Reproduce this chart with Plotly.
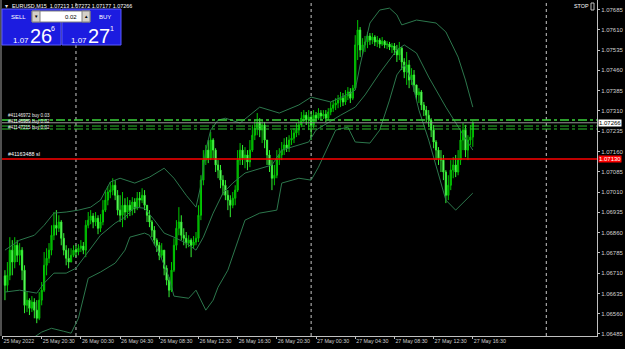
import plotly.graph_objects as go
import pandas as pd

# ---------------- data (prices in points above 1.06000) ----------------
BASE = 1.06
start_time = "2022-05-25 16:45"
first_open_pts = 700
close_pts = [665, 702, 795, 751, 813, 776, 795, 721, 591, 610,
             580, 603, 573, 543, 610, 647, 739, 765, 795, 850,
             887, 876, 899, 839, 795, 765, 751, 776, 795, 788,
             802, 810, 795, 887, 906, 921, 899, 913, 876, 899,
             943, 980, 1010, 1017, 1035, 998, 943, 924, 961, 936,
             961, 943, 973, 950, 987, 980, 998, 961, 924, 899,
             869, 832, 813, 776, 795, 728, 684, 647, 721, 813,
             876, 899, 850, 839, 821, 832, 813, 825, 839, 924,
             1054, 1128, 1165, 1135, 1202, 1165, 1110, 1091, 1054, 1035,
             998, 980, 961, 987, 1017, 1128, 1165, 1135, 1147, 1121,
             1165, 1220, 1246, 1269, 1239, 1258, 1202, 1147, 1110, 1061,
             1072, 1135, 1147, 1165, 1184, 1172, 1202, 1209, 1228, 1239,
             1258, 1283, 1294, 1276, 1287, 1258, 1294, 1283, 1302, 1291,
             1298, 1283, 1306, 1320, 1332, 1339, 1350, 1357, 1343, 1365,
             1380, 1357, 1394, 1554, 1609, 1535, 1554, 1565, 1587, 1572,
             1583, 1565, 1572, 1557, 1568, 1554, 1557, 1546, 1550, 1535,
             1517, 1542, 1491, 1454, 1480, 1424, 1443, 1406, 1369, 1380,
             1332, 1313, 1294, 1276, 1239, 1195, 1165, 1135, 1128, 1084,
             998, 1035, 1091, 1110, 1084, 1128, 1202, 1239, 1165, 1202,
             1213, 1266]
high_pts = [721, 751, 843, 832, 843, 832, 821, 806, 739, 640,
            617, 625, 617, 610, 640, 677, 788, 802, 821, 887,
            936, 943, 924, 906, 858, 813, 802, 802, 813, 813,
            817, 832, 825, 906, 936, 943, 932, 936, 924, 928,
            980, 1017, 1032, 1047, 1061, 1054, 1017, 998, 1010, 987,
            991, 980, 991, 987, 1010, 1010, 1024, 1017, 961, 943,
            906, 884, 839, 825, 821, 795, 739, 695, 751, 839,
            906, 954, 924, 876, 862, 850, 839, 847, 862, 961,
            1072, 1165, 1184, 1202, 1232, 1209, 1172, 1128, 1110, 1072,
            1054, 1017, 998, 1010, 1035, 1165, 1191, 1184, 1176, 1165,
            1202, 1258, 1276, 1302, 1283, 1276, 1269, 1202, 1165, 1128,
            1110, 1165, 1172, 1195, 1209, 1213, 1220, 1239, 1246, 1265,
            1276, 1306, 1313, 1306, 1313, 1306, 1313, 1306, 1320, 1313,
            1313, 1313, 1320, 1343, 1350, 1357, 1369, 1380, 1376, 1387,
            1398, 1394, 1406, 1590, 1646, 1620, 1579, 1587, 1602, 1598,
            1598, 1590, 1587, 1579, 1583, 1572, 1568, 1565, 1561, 1561,
            1554, 1565, 1546, 1505, 1528, 1498, 1468, 1461, 1406, 1394,
            1387, 1343, 1328, 1313, 1283, 1258, 1202, 1176, 1165, 1147,
            1091, 1072, 1128, 1139, 1147, 1165, 1239, 1265, 1258, 1220,
            1258, 1272]
low_pts = [610, 640, 684, 702, 728, 751, 739, 684, 562, 566,
           555, 566, 543, 525, 536, 591, 640, 702, 747, 776,
           832, 850, 862, 813, 776, 739, 728, 751, 769, 769,
           776, 788, 780, 769, 876, 891, 876, 884, 854, 862,
           887, 936, 961, 987, 998, 980, 924, 899, 880, 906,
           913, 921, 924, 932, 943, 954, 969, 943, 899, 880,
           843, 813, 788, 758, 765, 702, 665, 621, 640, 714,
           795, 850, 832, 813, 802, 806, 769, 802, 813, 825,
           906, 1035, 1110, 1117, 1128, 1135, 1084, 1061, 1024, 998,
           980, 943, 917, 950, 961, 1010, 1110, 1110, 1098, 1091,
           1102, 1158, 1202, 1220, 1213, 1191, 1172, 1110, 1084, 1017,
           1035, 1061, 1110, 1128, 1147, 1158, 1158, 1184, 1191, 1213,
           1220, 1250, 1269, 1258, 1239, 1202, 1246, 1269, 1276, 1276,
           1280, 1269, 1276, 1294, 1306, 1313, 1320, 1324, 1328, 1332,
           1350, 1339, 1350, 1387, 1498, 1509, 1517, 1528, 1542, 1554,
           1557, 1550, 1546, 1542, 1550, 1542, 1539, 1535, 1524, 1517,
           1491, 1498, 1461, 1431, 1406, 1394, 1406, 1380, 1350, 1339,
           1313, 1291, 1269, 1250, 1213, 1172, 1128, 1110, 1084, 1054,
           969, 980, 1017, 1061, 1065, 1072, 1110, 1165, 1139, 1128,
           1184, 1177]

# Bollinger bands (bar index relative to 26 May 00:00, value in points)
upper_idx = [-29, -23, -17, -13, -9, -4, 1, 6, 10, 14, 18, 24, 30, 36, 40, 45, 49, 51, 53, 55,
             58, 61, 67, 75, 83, 91, 96, 104, 112, 114, 116, 118, 120, 124, 128, 131, 133, 139,
             147, 151, 156, 159, 162]
upper_pts = [795, 832, 850, 887, 932, 936, 943, 954, 980, 1047, 1061, 1043, 1065, 1098, 1061, 998,
             954, 1035, 1165, 1239, 1276, 1283, 1265, 1324, 1302, 1332, 1361, 1343, 1376, 1387,
             1480, 1554, 1635, 1683, 1690, 1665, 1628, 1646, 1635, 1602, 1509, 1424, 1324]
middle_idx = [-29, -23, -16, -13, -9, -4, 0, 4, 10, 16, 20, 24, 28, 32, 36, 40, 45, 49, 52, 56,
              60, 64, 69, 80, 84, 95, 98, 108, 114, 118, 124, 131, 134, 139, 144, 151, 157, 162]
middle_pts = [640, 647, 636, 673, 710, 710, 728, 776, 850, 895, 917, 954, 950, 906, 858, 843, 821,
              795, 843, 932, 1006, 1043, 1080, 1110, 1165, 1195, 1239, 1294, 1324, 1369, 1450, 1535,
              1554, 1524, 1435, 1324, 1239, 1165]
lower_idx = [-29, -20, -14, -10, -5, -2, 1, 5, 10, 16, 20, 22, 28, 30, 34, 38, 40, 46, 49, 51,
             53, 56, 58, 62, 69, 75, 82, 84, 91, 96, 99, 106, 111, 114, 120, 124, 128, 131, 134,
             137, 140, 144, 147, 151, 155, 162]
lower_pts = [444, 455, 492, 506, 495, 488, 543, 691, 714, 747, 795, 843, 858, 850, 784, 695, 625,
             617, 647, 610, 573, 610, 658, 721, 906, 932, 943, 1043, 1061, 1054, 1102, 1239, 1250,
             1195, 1191, 1239, 1350, 1443, 1480, 1424, 1313, 1202, 1110, 980, 943, 1006]

tick_times = ["2022-05-25 16:30", "2022-05-25 20:30", "2022-05-26 00:30", "2022-05-26 04:30",
              "2022-05-26 08:30", "2022-05-26 12:30", "2022-05-26 16:30", "2022-05-26 20:30",
              "2022-05-27 00:30", "2022-05-27 04:30", "2022-05-27 08:30", "2022-05-27 12:30",
              "2022-05-27 16:30"]
tick_texts = ["25 May 2022", "25 May 20:30", "26 May 00:30", "26 May 04:30", "26 May 08:30",
              "26 May 12:30", "26 May 16:30", "26 May 20:30", "27 May 00:30", "27 May 04:30",
              "27 May 08:30", "27 May 12:30", "27 May 16:30"]
separator_times = ["2022-05-26 00:00", "2022-05-27 00:00", "2022-05-28 00:00"]
price_ticks = [1.06485 + 0.00075 * i for i in range(17)]

order_levels = [1.07276, 1.07254, 1.07243]
bid_price = 1.07266
sl_price = 1.07132
order_labels = ["#41146972 buy 0.03", "#41146989 buy 0.02", "#41147215 buy 0.02"]
sl_label = "#41163488 sl"
header_text = "EURUSD,M15  1.07213 1.07272 1.07177 1.07266"
sell_price = ("1.07", "26", "6")
buy_price = ("1.07", "27", "1")
lot_size = "0.02"

# ---------------- helpers ----------------
REF = pd.Timestamp("2022-05-26 00:00")
STEP = pd.Timedelta("15min")


def bar_index(t):
    return (pd.Timestamp(t) - REF) / STEP


def to_price(pts):
    return [BASE + p / 1e5 for p in pts]


opens_pts = [first_open_pts] + close_pts[:-1]
times = pd.date_range(start_time, periods=len(close_pts), freq="15min")
xk = [bar_index(t) for t in times]

# plot-area pixel geometry (for overlay decorations)
PX0, PX1, PH = 2, 597, 336


def px(x):
    return (x - PX0) / (PX1 - PX0)


def py(y):
    return 1 - y / PH


FONT = "Liberation Sans"
fig = go.Figure()

band_color = "#2c774c"
for idx, pts in [(upper_idx, upper_pts), (middle_idx, middle_pts), (lower_idx, lower_pts)]:
    fig.add_trace(go.Scatter(x=idx, y=to_price(pts), mode="lines",
                             line=dict(color=band_color, width=1), hoverinfo="skip",
                             showlegend=False))

fig.add_trace(go.Candlestick(
    x=xk, open=to_price(opens_pts), high=to_price(high_pts), low=to_price(low_pts),
    close=to_price(close_pts),
    increasing=dict(line=dict(color="#00c800", width=1), fillcolor="#009a00"),
    decreasing=dict(line=dict(color="#33f033", width=1), fillcolor="#a0ffa0"),
    whiskerwidth=0, showlegend=False))

shapes = []
# day separators
for t in separator_times:
    k = bar_index(t)
    shapes.append(dict(type="line", xref="x", yref="paper", x0=k, x1=k, y0=0, y1=1,
                       line=dict(color="#c8c8c8", width=1, dash="dot"), layer="below"))
# order lines
for i, lv in enumerate(order_levels):
    shapes.append(dict(type="line", xref="paper", yref="y", x0=0, x1=1, y0=lv, y1=lv,
                       line=dict(color="#2fc02f" if i else "#3ad43a", width=1.5 if i == 0 else 1,
                                 dash="dashdot"), layer="above"))
shapes.append(dict(type="line", xref="paper", yref="y", x0=0, x1=1, y0=bid_price, y1=bid_price,
                   line=dict(color="#9a9a9a", width=1), layer="above"))
shapes.append(dict(type="line", xref="paper", yref="y", x0=0, x1=1, y0=sl_price, y1=sl_price,
                   line=dict(color="#ff0000", width=1.3), layer="above"))
# left border
shapes.append(dict(type="line", xref="paper", yref="paper", x0=px(1), x1=px(1), y0=0, y1=1,
                   line=dict(color="#a0a0a0", width=1)))

# one-click trading panel
blue = "#1c1ce0"
for x0, x1 in [(2, 61), (62, 121)]:
    shapes.append(dict(type="rect", xref="paper", yref="paper", x0=px(x0), x1=px(x1),
                       y0=py(45), y1=py(9), fillcolor=blue,
                       line=dict(color="#5a5aff", width=1), layer="above"))
shapes.append(dict(type="rect", xref="paper", yref="paper", x0=px(32), x1=px(90),
                   y0=py(22), y1=py(11), fillcolor="#ffffff",
                   line=dict(color="#808080", width=1), layer="above"))
for x0, x1 in [(32, 40), (82, 90)]:
    shapes.append(dict(type="rect", xref="paper", yref="paper", x0=px(x0), x1=px(x1),
                       y0=py(22), y1=py(11), fillcolor="#d4d0c8",
                       line=dict(color="#808080", width=1), layer="above"))
# stop icon
shapes.append(dict(type="rect", xref="paper", yref="paper", x0=px(591), x1=px(594),
                   y0=py(10), y1=py(3), line=dict(color="#c0c0c0", width=1)))

ann = []


def text(x, y, s, size, color="#ffffff", xanchor="left", yanchor="middle", bg=None):
    d = dict(x=px(x), y=py(y), xref="paper", yref="paper", text=s, showarrow=False,
             xanchor=xanchor, yanchor=yanchor, align="left",
             font=dict(family=FONT, size=size, color=color))
    if bg:
        d["bgcolor"] = bg
        d["borderpad"] = 0
    ann.append(d)


text(3, 5.5, "▾", 6, "#e0e0e0")
text(10, 5.5, header_text, 5.4, "#ffffff")
text(572, 6, "STOP", 5.4, "#ffffff")
text(9, 17, "SELL", 6, "#ffffff")
text(97, 17, "BUY", 6, "#ffffff")
text(36, 16.5, "▼", 4.5, "#000000", xanchor="center")
text(86, 16.5, "▲", 4.5, "#000000", xanchor="center")
text(79, 17, lot_size, 6, "#000000", xanchor="right")
text(11, 40, sell_price[0], 8)
text(28, 36, sell_price[1], 20)
text(49, 28.5, sell_price[2], 7)
text(69, 40, buy_price[0], 8)
text(86, 36, buy_price[1], 20)
text(108, 28.5, buy_price[2], 7)
# stacked order labels (drawn as one multi-line text block)
text(6, 121.5, "<br>".join(order_labels), 4.6, "#f0f0f0")
text(6, 153.5, sl_label, 5.4, "#ffffff")
# right-side price labels
ann.append(dict(x=1.002, y=bid_price, xref="paper", yref="y", text="1.07266", showarrow=False,
                xanchor="left", yanchor="middle", bgcolor="#ffffff", borderpad=0,
                font=dict(family=FONT, size=6, color="#000000")))
ann.append(dict(x=1.002, y=sl_price, xref="paper", yref="y", text="1.07130", showarrow=False,
                xanchor="left", yanchor="middle", bgcolor="#ff0000", borderpad=0,
                font=dict(family=FONT, size=6, color="#ffffff")))

fig.update_layout(
    width=625, height=349,
    margin=dict(l=2, r=28, t=0, b=13),
    paper_bgcolor="#000000", plot_bgcolor="#000000",
    showlegend=False, shapes=shapes, annotations=ann,
    xaxis=dict(range=[bar_index("2022-05-25 16:45") - 1.2, bar_index("2022-05-25 16:45") + 241.7],
               rangeslider=dict(visible=False), showgrid=False, zeroline=False,
               showline=True, linecolor="#c0c0c0", linewidth=1,
               tickmode="array", tickvals=[bar_index(t) for t in tick_times], ticktext=tick_texts,
               ticks="outside", ticklen=2, tickcolor="#c0c0c0", tickangle=0,
               ticklabelposition="outside right",
               tickfont=dict(family=FONT, size=5.3, color="#d0d0d0")),
    yaxis=dict(range=[1.064775, 1.077201], side="right", showgrid=False, zeroline=False,
               showline=True, linecolor="#c0c0c0", linewidth=1,
               tickmode="array", tickvals=price_ticks,
               ticktext=[f"{v:.5f}" for v in price_ticks],
               ticks="outside", ticklen=2, tickcolor="#c0c0c0",
               tickfont=dict(family=FONT, size=6, color="#d0d0d0")),
)

fig.write_html("out.html")
